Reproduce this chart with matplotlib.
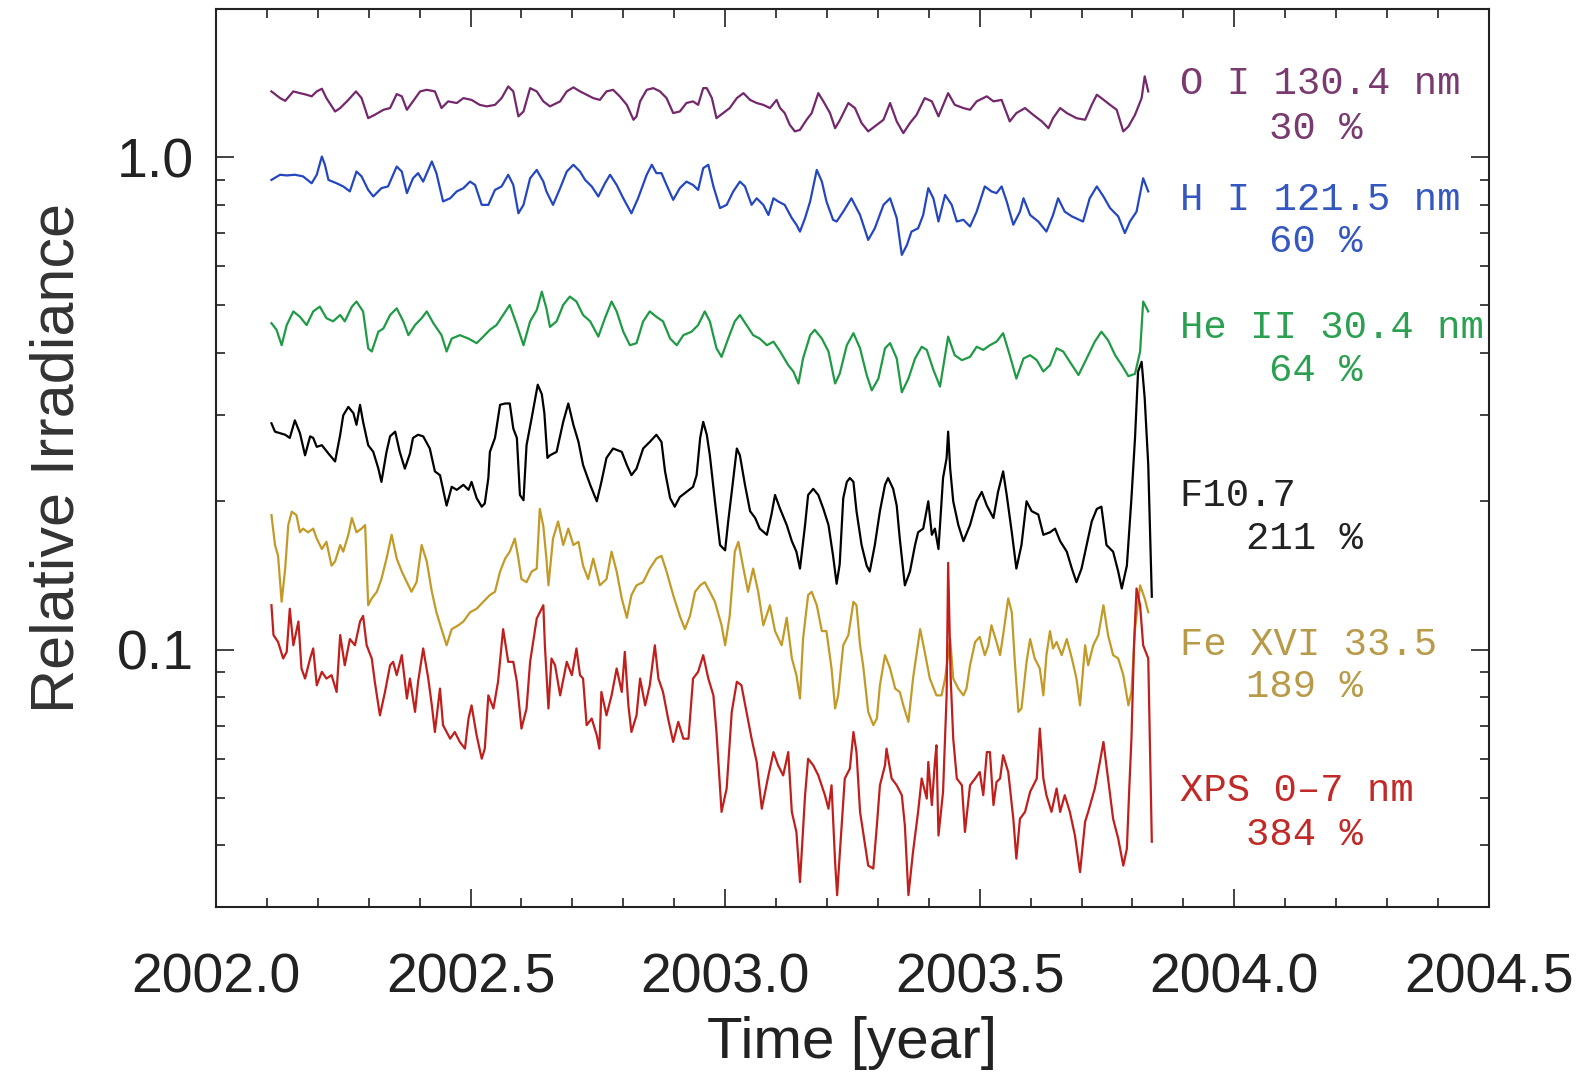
import matplotlib
matplotlib.use('Agg')
import matplotlib.pyplot as plt
import matplotlib.ticker as mticker
import numpy as np

# time axis: years after 2002.0
BASE_YEAR = 2002.0

# O I 130.4 nm
t_oi = [0.109, 0.126, 0.136, 0.152, 0.165, 0.178, 0.188, 0.198, 0.208, 0.217,
        0.234, 0.244, 0.260, 0.275, 0.286, 0.299, 0.312, 0.329, 0.342, 0.355,
        0.365, 0.375, 0.387, 0.401, 0.414, 0.430, 0.443, 0.456, 0.473, 0.486,
        0.502, 0.518, 0.532, 0.548, 0.561, 0.574, 0.584, 0.594, 0.604, 0.617,
        0.630, 0.643, 0.656, 0.676, 0.689, 0.702, 0.715, 0.728, 0.741, 0.754,
        0.767, 0.780, 0.793, 0.807, 0.820, 0.826, 0.833, 0.846, 0.859, 0.872,
        0.885, 0.898, 0.911, 0.924, 0.937, 0.947, 0.957, 0.964, 0.974, 0.983,
        0.996, 1.009, 1.023, 1.036, 1.049, 1.062, 1.075, 1.088, 1.101, 1.108,
        1.117, 1.127, 1.137, 1.147, 1.160, 1.170, 1.183, 1.193, 1.206, 1.216,
        1.225, 1.242, 1.255, 1.268, 1.281, 1.298, 1.311, 1.324, 1.337, 1.350,
        1.363, 1.376, 1.392, 1.406, 1.419, 1.438, 1.451, 1.468, 1.481, 1.494,
        1.514, 1.527, 1.543, 1.559, 1.572, 1.589, 1.605, 1.622, 1.635, 1.644,
        1.658, 1.671, 1.690, 1.707, 1.720, 1.730, 1.739, 1.756, 1.769, 1.782,
        1.792, 1.805, 1.818, 1.824, 1.831]
v_oi = [1.360, 1.318, 1.301, 1.360, 1.349, 1.339, 1.329, 1.360, 1.377, 1.318,
        1.238, 1.258, 1.307, 1.360, 1.318, 1.200, 1.219, 1.248, 1.258, 1.343,
        1.329, 1.248, 1.298, 1.360, 1.370, 1.360, 1.258, 1.298, 1.288, 1.318,
        1.307, 1.277, 1.268, 1.277, 1.318, 1.392, 1.360, 1.210, 1.238, 1.381,
        1.360, 1.298, 1.268, 1.298, 1.360, 1.386, 1.360, 1.339, 1.318, 1.307,
        1.360, 1.370, 1.329, 1.277, 1.191, 1.210, 1.298, 1.370, 1.381, 1.360,
        1.318, 1.229, 1.238, 1.288, 1.298, 1.277, 1.381, 1.381, 1.318, 1.200,
        1.229, 1.258, 1.318, 1.349, 1.307, 1.288, 1.277, 1.258, 1.307, 1.258,
        1.229, 1.163, 1.128, 1.136, 1.191, 1.229, 1.349, 1.298, 1.229, 1.145,
        1.187, 1.288, 1.258, 1.173, 1.128, 1.163, 1.191, 1.288, 1.182, 1.119,
        1.173, 1.219, 1.318, 1.298, 1.210, 1.349, 1.277, 1.258, 1.248, 1.298,
        1.329, 1.298, 1.307, 1.182, 1.229, 1.258, 1.219, 1.182, 1.145, 1.200,
        1.258, 1.229, 1.200, 1.191, 1.277, 1.339, 1.318, 1.277, 1.248, 1.128,
        1.154, 1.219, 1.318, 1.459, 1.360]

# H I 121.5 nm
t_hi = [0.109, 0.126, 0.139, 0.155, 0.171, 0.188, 0.198, 0.208, 0.214, 0.221,
        0.237, 0.250, 0.263, 0.276, 0.286, 0.299, 0.309, 0.325, 0.338, 0.355,
        0.365, 0.375, 0.387, 0.397, 0.407, 0.424, 0.433, 0.446, 0.460, 0.473,
        0.486, 0.499, 0.509, 0.522, 0.535, 0.548, 0.561, 0.574, 0.584, 0.594,
        0.604, 0.617, 0.630, 0.643, 0.649, 0.662, 0.676, 0.689, 0.702, 0.715,
        0.725, 0.738, 0.751, 0.764, 0.774, 0.787, 0.800, 0.816, 0.829, 0.846,
        0.856, 0.865, 0.875, 0.885, 0.898, 0.911, 0.924, 0.937, 0.947, 0.957,
        0.967, 0.977, 0.990, 1.003, 1.016, 1.029, 1.039, 1.052, 1.062, 1.075,
        1.085, 1.095, 1.104, 1.117, 1.131, 1.140, 1.147, 1.157, 1.167, 1.180,
        1.190, 1.199, 1.212, 1.219, 1.232, 1.248, 1.265, 1.281, 1.294, 1.311,
        1.324, 1.337, 1.347, 1.357, 1.366, 1.379, 1.389, 1.399, 1.409, 1.419,
        1.432, 1.445, 1.455, 1.468, 1.481, 1.494, 1.510, 1.523, 1.533, 1.543,
        1.553, 1.566, 1.579, 1.586, 1.599, 1.615, 1.631, 1.644, 1.654, 1.667,
        1.681, 1.703, 1.716, 1.730, 1.743, 1.756, 1.772, 1.785, 1.795, 1.808,
        1.821, 1.831]
v_hi = [0.899, 0.921, 0.918, 0.921, 0.914, 0.885, 0.921, 1.003, 0.965, 0.899,
        0.885, 0.872, 0.852, 0.935, 0.914, 0.858, 0.832, 0.865, 0.872, 0.957,
        0.935, 0.845, 0.906, 0.928, 0.892, 0.980, 0.928, 0.813, 0.825, 0.852,
        0.865, 0.892, 0.878, 0.800, 0.800, 0.858, 0.872, 0.921, 0.878, 0.769,
        0.800, 0.906, 0.942, 0.892, 0.852, 0.800, 0.865, 0.935, 0.965, 0.935,
        0.899, 0.872, 0.832, 0.885, 0.921, 0.878, 0.825, 0.769, 0.825, 0.921,
        0.965, 0.928, 0.928, 0.878, 0.819, 0.865, 0.892, 0.878, 0.858, 0.950,
        0.965, 0.872, 0.788, 0.800, 0.852, 0.892, 0.872, 0.800, 0.825, 0.800,
        0.763, 0.825, 0.813, 0.800, 0.752, 0.729, 0.706, 0.752, 0.813, 0.942,
        0.892, 0.813, 0.746, 0.740, 0.775, 0.825, 0.763, 0.679, 0.717, 0.800,
        0.825, 0.752, 0.633, 0.663, 0.706, 0.717, 0.763, 0.865, 0.825, 0.740,
        0.838, 0.800, 0.740, 0.746, 0.723, 0.775, 0.872, 0.852, 0.845, 0.872,
        0.813, 0.729, 0.775, 0.825, 0.763, 0.740, 0.706, 0.763, 0.825, 0.775,
        0.758, 0.740, 0.825, 0.872, 0.832, 0.788, 0.758, 0.701, 0.740, 0.775,
        0.906, 0.852]

# He II 30.4 nm
t_he = [0.109, 0.119, 0.129, 0.139, 0.152, 0.165, 0.178, 0.191, 0.204, 0.217,
        0.230, 0.244, 0.253, 0.267, 0.276, 0.289, 0.299, 0.306, 0.319, 0.329,
        0.342, 0.355, 0.368, 0.378, 0.391, 0.404, 0.414, 0.427, 0.443, 0.453,
        0.463, 0.479, 0.496, 0.512, 0.525, 0.538, 0.551, 0.564, 0.577, 0.591,
        0.604, 0.617, 0.630, 0.640, 0.649, 0.656, 0.669, 0.682, 0.695, 0.708,
        0.721, 0.735, 0.751, 0.764, 0.777, 0.787, 0.800, 0.813, 0.826, 0.839,
        0.852, 0.865, 0.878, 0.892, 0.905, 0.918, 0.934, 0.947, 0.960, 0.970,
        0.983, 0.993, 1.006, 1.019, 1.029, 1.042, 1.055, 1.068, 1.082, 1.095,
        1.108, 1.124, 1.134, 1.144, 1.153, 1.167, 1.176, 1.190, 1.203, 1.216,
        1.225, 1.239, 1.252, 1.265, 1.278, 1.288, 1.301, 1.314, 1.324, 1.337,
        1.347, 1.360, 1.373, 1.386, 1.396, 1.409, 1.422, 1.438, 1.451, 1.465,
        1.481, 1.494, 1.507, 1.520, 1.533, 1.546, 1.559, 1.572, 1.586, 1.599,
        1.612, 1.625, 1.638, 1.651, 1.664, 1.677, 1.694, 1.710, 1.726, 1.739,
        1.752, 1.766, 1.779, 1.792, 1.805, 1.815, 1.821, 1.831]
v_he = [0.460, 0.446, 0.415, 0.456, 0.486, 0.474, 0.456, 0.486, 0.497, 0.471,
        0.464, 0.478, 0.464, 0.497, 0.509, 0.486, 0.409, 0.403, 0.442, 0.449,
        0.478, 0.493, 0.464, 0.435, 0.456, 0.471, 0.486, 0.460, 0.435, 0.403,
        0.428, 0.435, 0.428, 0.419, 0.432, 0.446, 0.456, 0.478, 0.501, 0.456,
        0.415, 0.464, 0.489, 0.533, 0.493, 0.452, 0.464, 0.501, 0.521, 0.509,
        0.478, 0.464, 0.432, 0.471, 0.509, 0.486, 0.442, 0.415, 0.419, 0.464,
        0.486, 0.474, 0.464, 0.428, 0.415, 0.435, 0.442, 0.456, 0.486, 0.464,
        0.409, 0.393, 0.428, 0.464, 0.478, 0.456, 0.435, 0.428, 0.415, 0.422,
        0.403, 0.378, 0.367, 0.347, 0.390, 0.435, 0.446, 0.428, 0.403, 0.347,
        0.363, 0.415, 0.439, 0.409, 0.361, 0.336, 0.355, 0.409, 0.419, 0.390,
        0.333, 0.355, 0.390, 0.412, 0.406, 0.370, 0.342, 0.432, 0.396, 0.387,
        0.393, 0.412, 0.406, 0.415, 0.422, 0.439, 0.396, 0.355, 0.390, 0.396,
        0.387, 0.367, 0.378, 0.409, 0.403, 0.384, 0.361, 0.390, 0.422, 0.442,
        0.425, 0.396, 0.378, 0.359, 0.363, 0.403, 0.509, 0.486]

# F10.7
t_f107 = [0.109, 0.116, 0.126, 0.136, 0.145, 0.155, 0.165, 0.175, 0.185, 0.191,
          0.198, 0.208, 0.221, 0.234, 0.244, 0.250, 0.260, 0.270, 0.276, 0.283,
          0.289, 0.299, 0.309, 0.319, 0.325, 0.335, 0.342, 0.352, 0.361, 0.371,
          0.381, 0.387, 0.397, 0.407, 0.420, 0.430, 0.440, 0.453, 0.463, 0.473,
          0.486, 0.496, 0.502, 0.512, 0.522, 0.528, 0.535, 0.538, 0.548, 0.558,
          0.568, 0.577, 0.584, 0.591, 0.597, 0.604, 0.610, 0.620, 0.632, 0.640,
          0.645, 0.651, 0.656, 0.669, 0.682, 0.692, 0.702, 0.712, 0.721, 0.735,
          0.748, 0.757, 0.767, 0.780, 0.797, 0.807, 0.816, 0.826, 0.839, 0.852,
          0.865, 0.875, 0.882, 0.892, 0.901, 0.911, 0.924, 0.937, 0.944, 0.951,
          0.957, 0.964, 0.970, 0.980, 0.990, 1.000, 1.006, 1.013, 1.023, 1.029,
          1.039, 1.049, 1.059, 1.068, 1.082, 1.091, 1.098, 1.108, 1.121, 1.131,
          1.140, 1.147, 1.157, 1.163, 1.173, 1.183, 1.193, 1.203, 1.212, 1.219,
          1.225, 1.232, 1.239, 1.245, 1.252, 1.258, 1.268, 1.278, 1.284, 1.294,
          1.304, 1.314, 1.320, 1.330, 1.337, 1.343, 1.353, 1.363, 1.373, 1.379,
          1.389, 1.399, 1.406, 1.412, 1.419, 1.428, 1.435, 1.438, 1.442, 1.448,
          1.458, 1.468, 1.481, 1.494, 1.504, 1.514, 1.527, 1.536, 1.546, 1.553,
          1.563, 1.572, 1.582, 1.592, 1.602, 1.615, 1.625, 1.638, 1.648, 1.658,
          1.671, 1.681, 1.690, 1.700, 1.710, 1.720, 1.730, 1.739, 1.749, 1.762,
          1.772, 1.779, 1.789, 1.798, 1.805, 1.811, 1.818, 1.824, 1.831, 1.838]
v_f107 = [0.288, 0.277, 0.275, 0.273, 0.269, 0.292, 0.275, 0.248, 0.271, 0.269,
          0.258, 0.260, 0.250, 0.241, 0.273, 0.299, 0.311, 0.302, 0.286, 0.314,
          0.290, 0.260, 0.252, 0.233, 0.219, 0.252, 0.271, 0.277, 0.252, 0.233,
          0.250, 0.269, 0.273, 0.271, 0.256, 0.230, 0.226, 0.196, 0.214, 0.211,
          0.216, 0.211, 0.219, 0.203, 0.195, 0.198, 0.223, 0.252, 0.269, 0.314,
          0.316, 0.316, 0.281, 0.269, 0.206, 0.201, 0.260, 0.295, 0.345, 0.330,
          0.302, 0.245, 0.248, 0.252, 0.290, 0.316, 0.286, 0.264, 0.237, 0.216,
          0.200, 0.219, 0.245, 0.256, 0.252, 0.237, 0.226, 0.233, 0.256, 0.264,
          0.273, 0.264, 0.230, 0.203, 0.195, 0.204, 0.209, 0.214, 0.226, 0.269,
          0.290, 0.273, 0.248, 0.200, 0.163, 0.159, 0.182, 0.209, 0.256, 0.248,
          0.216, 0.191, 0.185, 0.176, 0.171, 0.188, 0.206, 0.193, 0.179, 0.166,
          0.158, 0.146, 0.179, 0.206, 0.212, 0.206, 0.193, 0.179, 0.155, 0.136,
          0.149, 0.203, 0.219, 0.223, 0.219, 0.191, 0.163, 0.148, 0.144, 0.163,
          0.191, 0.216, 0.223, 0.212, 0.196, 0.168, 0.135, 0.144, 0.163, 0.173,
          0.176, 0.200, 0.171, 0.176, 0.160, 0.223, 0.245, 0.277, 0.233, 0.200,
          0.179, 0.166, 0.179, 0.200, 0.209, 0.196, 0.185, 0.209, 0.230, 0.206,
          0.173, 0.146, 0.163, 0.200, 0.191, 0.188, 0.171, 0.173, 0.176, 0.166,
          0.158, 0.146, 0.137, 0.146, 0.163, 0.182, 0.193, 0.195, 0.163, 0.158,
          0.144, 0.133, 0.148, 0.203, 0.269, 0.367, 0.384, 0.324, 0.237, 0.128]

# Fe XVI 33.5 nm
t_fe = [0.109, 0.116, 0.122, 0.129, 0.136, 0.142, 0.149, 0.158, 0.165, 0.171,
        0.181, 0.191, 0.198, 0.208, 0.217, 0.227, 0.234, 0.244, 0.250, 0.260,
        0.267, 0.276, 0.286, 0.293, 0.296, 0.299, 0.306, 0.316, 0.325, 0.335,
        0.345, 0.355, 0.365, 0.375, 0.384, 0.394, 0.404, 0.414, 0.424, 0.433,
        0.443, 0.453, 0.463, 0.476, 0.486, 0.499, 0.512, 0.525, 0.538, 0.548,
        0.558, 0.568, 0.577, 0.587, 0.594, 0.600, 0.610, 0.620, 0.630, 0.636,
        0.643, 0.649, 0.653, 0.662, 0.672, 0.682, 0.692, 0.702, 0.712, 0.721,
        0.731, 0.741, 0.754, 0.767, 0.777, 0.787, 0.797, 0.807, 0.816, 0.826,
        0.839, 0.852, 0.865, 0.875, 0.885, 0.898, 0.911, 0.921, 0.931, 0.941,
        0.951, 0.960, 0.970, 0.980, 0.993, 1.000, 1.009, 1.019, 1.026, 1.036,
        1.045, 1.055, 1.065, 1.075, 1.088, 1.098, 1.111, 1.121, 1.131, 1.140,
        1.147, 1.153, 1.163, 1.170, 1.180, 1.190, 1.199, 1.209, 1.216, 1.222,
        1.232, 1.242, 1.252, 1.258, 1.265, 1.271, 1.281, 1.291, 1.298, 1.304,
        1.314, 1.324, 1.334, 1.343, 1.350, 1.360, 1.369, 1.383, 1.392, 1.402,
        1.415, 1.425, 1.432, 1.442, 1.448, 1.458, 1.468, 1.474, 1.481, 1.491,
        1.500, 1.510, 1.517, 1.523, 1.533, 1.540, 1.546, 1.556, 1.563, 1.569,
        1.576, 1.582, 1.592, 1.599, 1.608, 1.618, 1.625, 1.631, 1.638, 1.644,
        1.651, 1.661, 1.671, 1.681, 1.690, 1.697, 1.707, 1.713, 1.723, 1.733,
        1.743, 1.752, 1.762, 1.772, 1.782, 1.792, 1.798, 1.805, 1.815, 1.824,
        1.831]
v_fe = [0.1875, 0.163, 0.155, 0.125, 0.146, 0.179, 0.1905, 0.1875, 0.173, 0.176,
        0.173, 0.176, 0.168, 0.160, 0.1655, 0.148, 0.151, 0.163, 0.158, 0.171,
        0.185, 0.173, 0.176, 0.179, 0.148, 0.123, 0.127, 0.131, 0.139, 0.153,
        0.171, 0.153, 0.144, 0.137, 0.131, 0.137, 0.163, 0.151, 0.131, 0.119,
        0.110, 0.102, 0.110, 0.112, 0.114, 0.119, 0.121, 0.125, 0.129, 0.131,
        0.144, 0.153, 0.158, 0.168, 0.153, 0.139, 0.137, 0.144, 0.146, 0.193,
        0.178, 0.153, 0.135, 0.168, 0.182, 0.163, 0.176, 0.163, 0.1655, 0.148,
        0.139, 0.153, 0.135, 0.139, 0.158, 0.144, 0.127, 0.116, 0.129, 0.135,
        0.137, 0.146, 0.153, 0.155, 0.144, 0.129, 0.117, 0.110, 0.117, 0.131,
        0.135, 0.137, 0.131, 0.125, 0.112, 0.102, 0.117, 0.158, 0.1655, 0.146,
        0.131, 0.146, 0.131, 0.112, 0.123, 0.109, 0.102, 0.116, 0.096, 0.0887,
        0.0795, 0.105, 0.129, 0.131, 0.123, 0.109, 0.109, 0.0915, 0.0759, 0.0807,
        0.102, 0.107, 0.125, 0.123, 0.102, 0.0929, 0.0747, 0.0702, 0.0724, 0.0846,
        0.0974, 0.0915, 0.0833, 0.082, 0.077, 0.0713, 0.0873, 0.110, 0.0989, 0.0873,
        0.0807, 0.0807, 0.0873, 0.105, 0.0873, 0.0833, 0.0807, 0.0833, 0.0929, 0.1036,
        0.1061, 0.0974, 0.102, 0.112, 0.1036, 0.0974, 0.107, 0.127, 0.119, 0.0944,
        0.0747, 0.0759, 0.0944, 0.105, 0.0959, 0.0915, 0.0807, 0.0974, 0.109, 0.1005,
        0.1036, 0.0974, 0.105, 0.0959, 0.0873, 0.077, 0.102, 0.0929, 0.102, 0.107,
        0.123, 0.107, 0.0974, 0.0959, 0.0887, 0.077, 0.082, 0.110, 0.135, 0.127,
        0.119]

# XPS 0-7 nm
t_xps = [0.109, 0.113, 0.122, 0.132, 0.139, 0.145, 0.152, 0.162, 0.168, 0.175,
         0.185, 0.191, 0.198, 0.208, 0.217, 0.227, 0.237, 0.244, 0.253, 0.263,
         0.273, 0.283, 0.289, 0.296, 0.306, 0.312, 0.322, 0.332, 0.342, 0.348,
         0.355, 0.365, 0.375, 0.381, 0.391, 0.397, 0.407, 0.417, 0.424, 0.430,
         0.440, 0.446, 0.460, 0.469, 0.479, 0.489, 0.496, 0.502, 0.512, 0.522,
         0.528, 0.535, 0.545, 0.554, 0.564, 0.574, 0.584, 0.591, 0.600, 0.610,
         0.617, 0.630, 0.636, 0.643, 0.646, 0.653, 0.659, 0.666, 0.676, 0.689,
         0.699, 0.708, 0.715, 0.721, 0.728, 0.738, 0.748, 0.753, 0.757, 0.767,
         0.777, 0.787, 0.797, 0.803, 0.810, 0.816, 0.826, 0.833, 0.843, 0.852,
         0.862, 0.869, 0.878, 0.888, 0.898, 0.908, 0.918, 0.928, 0.937, 0.947,
         0.957, 0.967, 0.977, 0.983, 0.993, 1.003, 1.013, 1.023, 1.032, 1.042,
         1.052, 1.062, 1.072, 1.085, 1.095, 1.104, 1.114, 1.124, 1.131, 1.140,
         1.147, 1.157, 1.163, 1.173, 1.183, 1.196, 1.203, 1.209, 1.216, 1.220,
         1.225, 1.235, 1.245, 1.252, 1.258, 1.265, 1.271, 1.281, 1.291, 1.298,
         1.304, 1.314, 1.317, 1.327, 1.337, 1.347, 1.353, 1.360, 1.369, 1.379,
         1.386, 1.396, 1.399, 1.406, 1.412, 1.415, 1.419, 1.428, 1.435, 1.438,
         1.443, 1.448, 1.455, 1.465, 1.471, 1.481, 1.491, 1.500, 1.507, 1.514,
         1.520, 1.527, 1.533, 1.540, 1.546, 1.556, 1.566, 1.572, 1.579, 1.589,
         1.599, 1.612, 1.618, 1.625, 1.631, 1.641, 1.651, 1.658, 1.667, 1.677,
         1.687, 1.697, 1.707, 1.713, 1.726, 1.736, 1.743, 1.752, 1.762, 1.772,
         1.782, 1.789, 1.794, 1.798, 1.803, 1.808, 1.815, 1.821, 1.831, 1.838]
v_xps = [0.123, 0.107, 0.1036, 0.0959, 0.0989, 0.121, 0.102, 0.114, 0.0915, 0.0873,
         0.0959, 0.1005, 0.0846, 0.0901, 0.0873, 0.0887, 0.082, 0.107, 0.0929, 0.105,
         0.102, 0.114, 0.117, 0.102, 0.0959, 0.086, 0.0735, 0.082, 0.0929, 0.0944,
         0.0887, 0.0974, 0.0795, 0.0873, 0.0747, 0.086, 0.1005, 0.0873, 0.077, 0.068,
         0.0833, 0.0702, 0.0659, 0.068, 0.0649, 0.0629, 0.0724, 0.077, 0.0669, 0.060,
         0.0629, 0.0807, 0.0759, 0.086, 0.110, 0.0944, 0.0944, 0.086, 0.0691, 0.0759,
         0.0944, 0.1156, 0.119, 0.123, 0.102, 0.0759, 0.0959, 0.0929, 0.0807, 0.0944,
         0.0887, 0.1005, 0.0887, 0.0873, 0.0702, 0.0724, 0.0669, 0.0629, 0.082, 0.0735,
         0.0807, 0.0915, 0.082, 0.0989, 0.077, 0.068, 0.0735, 0.0873, 0.077, 0.0846,
         0.102, 0.0873, 0.082, 0.0724, 0.0649, 0.0713, 0.0659, 0.0659, 0.0873, 0.0901,
         0.0974, 0.0873, 0.0807, 0.068, 0.0468, 0.0522, 0.0747, 0.086, 0.0846, 0.0747,
         0.0659, 0.0591, 0.0475, 0.0555, 0.0619, 0.0582, 0.0555, 0.0619, 0.0468, 0.0426,
         0.0337, 0.0506, 0.060, 0.0582, 0.0555, 0.0506, 0.0475, 0.053, 0.037, 0.0317,
         0.0382, 0.0547, 0.0573, 0.068, 0.0619, 0.0468, 0.0426, 0.0364, 0.0359, 0.0439,
         0.053, 0.0582, 0.0629, 0.0547, 0.053, 0.0506, 0.0439, 0.0317, 0.0388, 0.0468,
         0.0547, 0.0498, 0.0591, 0.0483, 0.0591, 0.0639, 0.0419, 0.0514, 0.0807, 0.150,
         0.0873, 0.0659, 0.0547, 0.053, 0.0426, 0.053, 0.0547, 0.0564, 0.0506, 0.0619,
         0.0619, 0.0483, 0.0538, 0.0547, 0.061, 0.0564, 0.0453, 0.0376, 0.0453, 0.0468,
         0.0514, 0.0547, 0.0691, 0.0547, 0.0506, 0.0468, 0.0522, 0.0468, 0.0506, 0.0468,
         0.0419, 0.0353, 0.0447, 0.0468, 0.0522, 0.0591, 0.0649, 0.0547, 0.0453, 0.0413,
         0.0364, 0.0394, 0.053, 0.0659, 0.102, 0.133, 0.123, 0.102, 0.0959, 0.0407]

# labels on the right: name and solar-cycle variability
names = ['O I 130.4 nm', 'H I 121.5 nm', 'He II 30.4 nm',
         'F10.7', 'Fe XVI 33.5', 'XPS 0\u20137 nm']
variability = ['30 %', '60 %', '64 %', '211 %', '189 %', '384 %']

x_ticks = [2002.0, 2002.5, 2003.0, 2003.5, 2004.0, 2004.5]
y_ticks = [0.1, 1.0]
y_ticklabels = ['0.1', '1.0']


def plot_irradiance():
    plt.rcParams['font.family'] = ['Liberation Sans', 'DejaVu Sans']

    fig = plt.figure(figsize=(15.89, 10.76), dpi=100)
    ax = fig.add_axes([0.1359, 0.1571, 0.8011, 0.8346])

    # one line per channel
    series = [(t_oi, v_oi, '#74286c'),
              (t_hi, v_hi, '#2447c0'),
              (t_he, v_he, '#1f9a45'),
              (t_f107, v_f107, '#000000'),
              (t_fe, v_fe, '#c39a28'),
              (t_xps, v_xps, '#c01f1c')]
    for t, v, c in series:
        ax.plot(BASE_YEAR + np.array(t), v, color=c, lw=1.6)

    # axes
    ax.set_yscale('log')
    ax.set_xlim(2002.0, 2004.5)
    ax.set_ylim(0.03, 2.0)
    ax.set_xticks(x_ticks)
    ax.xaxis.set_major_formatter(mticker.FormatStrFormatter('%.1f'))
    ax.xaxis.set_minor_locator(mticker.MultipleLocator(0.1))
    ax.set_yticks(y_ticks)
    ax.set_yticklabels(y_ticklabels)
    ax.yaxis.set_minor_locator(mticker.LogLocator(base=10, subs=np.arange(2, 10)))
    ax.yaxis.set_minor_formatter(mticker.NullFormatter())

    for s in ax.spines.values():
        s.set_linewidth(1.5)
        s.set_color('#222222')
    ax.tick_params(which='both', direction='in', top=True, right=True,
                   color='#222222', labelcolor='#222222', labelsize=40)
    ax.tick_params(which='major', length=13, width=1.2)
    ax.tick_params(which='minor', length=6.5, width=1.2)
    ax.tick_params(axis='x', pad=33)
    ax.tick_params(axis='y', pad=16)

    ax.set_xlabel('Time [year]', fontsize=42, color='#222222', labelpad=8)
    ax.set_ylabel('Relative Irradiance', fontsize=44, color='#333333',
                  labelpad=22)

    # channel names and percentages
    label_colors = ['#7a3a70', '#3558c0', '#2aa050', '#222222',
                    '#b89a48', '#c02a28']
    name_y = [0.9165, 0.7873, 0.6448, 0.4577, 0.2918, 0.1292]
    pct_y = [0.8664, 0.7405, 0.5969, 0.4098, 0.2450, 0.0802]
    for n, p, c, ny, py in zip(names, variability, label_colors, name_y, pct_y):
        ax.text(0.757, ny, n, transform=ax.transAxes, color=c,
                family='Liberation Mono', fontsize=28, ha='left', va='center')
        ax.text(0.901, py, p, transform=ax.transAxes, color=c,
                family='Liberation Mono', fontsize=28, ha='right', va='center')

    plt.savefig('out.png', dpi=100)


if __name__ == '__main__':
    plot_irradiance()
